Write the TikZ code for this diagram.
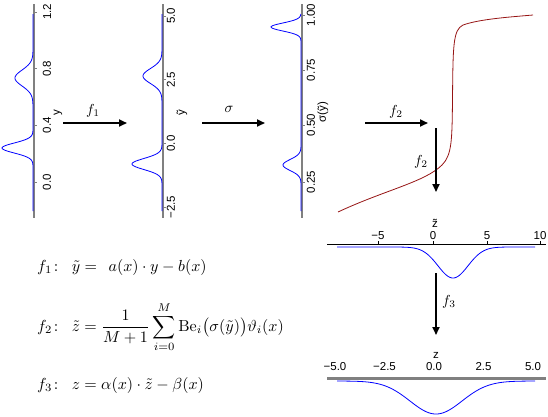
\documentclass[tikz,border=0pt]{standalone}
\usepackage{amsmath}
\usepackage{graphicx}
\usepackage{fontspec}
\newfontfamily\axisfont{Liberation Sans}
\usetikzlibrary{arrows.meta}
\definecolor{bernred}{RGB}{150,20,20}
% gaussian bump: amplitude, centre, spread
\tikzset{declare function={bump(\a,\c,\s,\t)=\a*exp(max(-30,-0.5*((\t-\c)/\s)*((\t-\c)/\s)));}}
\newcommand{\bigmath}[1]{\scalebox{1.45}{$#1$}}
\newcommand{\eqmath}[1]{\scalebox{1.6}{$#1$}}

\begin{document}
\begin{tikzpicture}[x=1pt,y=-1pt,
    gaxis/.style={draw=gray, line width=1.5pt},
    gtick/.style={draw=gray, line width=0.7pt},
    dens/.style={blue, line width=0.8pt},
    ticklab/.style={font=\axisfont\fontsize{11.5}{13}\selectfont, inner sep=0pt},
    vticklab/.style={ticklab, rotate=90},
    bigarrow/.style={-{Triangle[length=8pt,width=7pt]}, line width=1.8pt},
    flabel/.style={inner sep=1pt},
    eqtext/.style={anchor=west, inner sep=0pt}]

  \useasboundingbox (0,0) rectangle (548,416);

  % density of y
  \draw[gaxis] (34,4) -- (34,218);
  \foreach \v [count=\i] in {0.0,0.4,0.8,1.2} {
    \draw[gtick] (34,{182-141.7*\v}) -- ++(3,0);
    \node[vticklab] (ytick\i) at (47,{182-141.7*\v}) {\v};
  }
  \node[vticklab] (ylab) at (58,113) {y};
  \draw[dens] plot[domain=14:211, samples=250, variable=\t]
    ({33 - bump(31,148,5,\t) - bump(18,78,8,\t)}, {\t});

  % density of y tilde
  \draw[gaxis] (163,4) -- (163,218);
  \foreach \v/\lab [count=\i] in {5/5.0,2.5/2.5,0/0.0,-2.5/−2.5} {
    \draw[gtick] (163,{16+(5-\v)*25.5}) -- ++(3,0);
    \node[vticklab] (yttick\i) at (171,{16+(5-\v)*25.5}) {\lab};
  }
  \node[vticklab] (ytlab) at (182,113) {ỹ};
  \draw[dens] plot[domain=14:211, samples=250, variable=\t]
    ({162 - bump(30,164,5.5,\t) - bump(19,76,7.5,\t)}, {\t});

  % density of sigma(y tilde)
  \draw[gaxis] (302,4) -- (302,218);
  \foreach \v/\lab [count=\i] in {15/1.00,70/0.75,125/0.50,182/0.25} {
    \draw[gtick] (302,\v) -- ++(3,0);
    \node[vticklab] (stick\i) at (311,\v) {\lab};
  }
  \node[vticklab] (slab) at (323,112) {σ(ỹ)};
  \draw[dens] plot[domain=14:211, samples=250, variable=\t]
    ({301 - bump(30,27,4,\t) - bump(18,165,5.5,\t)}, {\t});

  % Bernstein transformation
  \draw[bernred, line width=0.8pt] (338,212)
    .. controls (385,190) and (425,182) .. (442,165)
    .. controls (452,155) and (452,140) .. (452.5,100)
    .. controls (453,45) and (453,30) .. (463,25)
    .. controls (480,19) and (510,17) .. (533,15);

  % density of z tilde
  \draw[black, line width=0.8pt] (327,244) -- (546,244);
  \foreach \v/\lab [count=\i] in {378/−5,433/0,487/5,540/10} {
    \draw[black, line width=0.6pt] (\v,244) -- ++(0,-3);
    \node[ticklab] (zttick\i) at (\v,236) {\lab};
  }
  \node[ticklab] (ztlab) at (435,223) {z̃};
  \draw[dens] plot[domain=337:535, samples=200, variable=\t]
    ({\t}, {247 + bump(31,453,15,\t)});

  % density of z
  \draw[gaxis, line width=3pt] (327,378) -- (546,378);
  \foreach \v/\lab [count=\i] in {0/−5.0,1/−2.5,2/0.0,3/2.5,4/5.0} {
    \node[ticklab] (ztick\i) at ({335+49.5*\v},367) {\lab};
  }
  \node[ticklab] (zlab) at (436,355) {z};
  \draw[dens] plot[domain=337:535, samples=200, variable=\t]
    ({\t}, {381 + bump(33,436,26,\t)});

  % arrows between the steps
  \coordinate (fa) at (63,123);  \coordinate (fb) at (127,123);
  \coordinate (sa) at (202,123); \coordinate (sb) at (265,123);
  \coordinate (ga) at (365,123); \coordinate (gb) at (428,123);
  \coordinate (gc) at (436,128); \coordinate (gd) at (436,192);
  \coordinate (ha) at (436,273); \coordinate (hb) at (436,335);
  \draw[bigarrow] (fa) -- (fb);
  \draw[bigarrow] (sa) -- (sb);
  \draw[bigarrow] (ga) -- (gb);
  \draw[bigarrow] (gc) -- (gd);
  \draw[bigarrow] (ha) -- (hb);
  \node[flabel] (fonelab) at (93,111) {\bigmath{f_1}};
  \node[flabel] (siglab) at (229,109) {\bigmath{\sigma}};
  \node[flabel] (ftwolab) at (396,112) {\bigmath{f_2}};
  \node[flabel] (ftwolabb) at (421,162) {\bigmath{f_2}};
  \node[flabel] (fthreelab) at (449,302) {\bigmath{f_3}};

  % the three maps
  \node[eqtext] (eqone) at (37,267)
    {\eqmath{f_1\!:\;\;\tilde{y} = \;\,a(x)\cdot y - b(x)}};
  \node[eqtext] (eqtwo) at (37,327)
    {\eqmath{\displaystyle f_2\!:\;\;\tilde{z} = \frac{1}{M+1}\sum_{i=0}^{M}\mathrm{Be}_i\bigl(\sigma(\tilde{y})\bigr)\vartheta_i(x)}};
  \node[eqtext] (eqthree) at (37,385)
    {\eqmath{f_3\!:\;\;z = \alpha(x)\cdot\tilde{z} - \beta(x)}};
\end{tikzpicture}
\end{document}
